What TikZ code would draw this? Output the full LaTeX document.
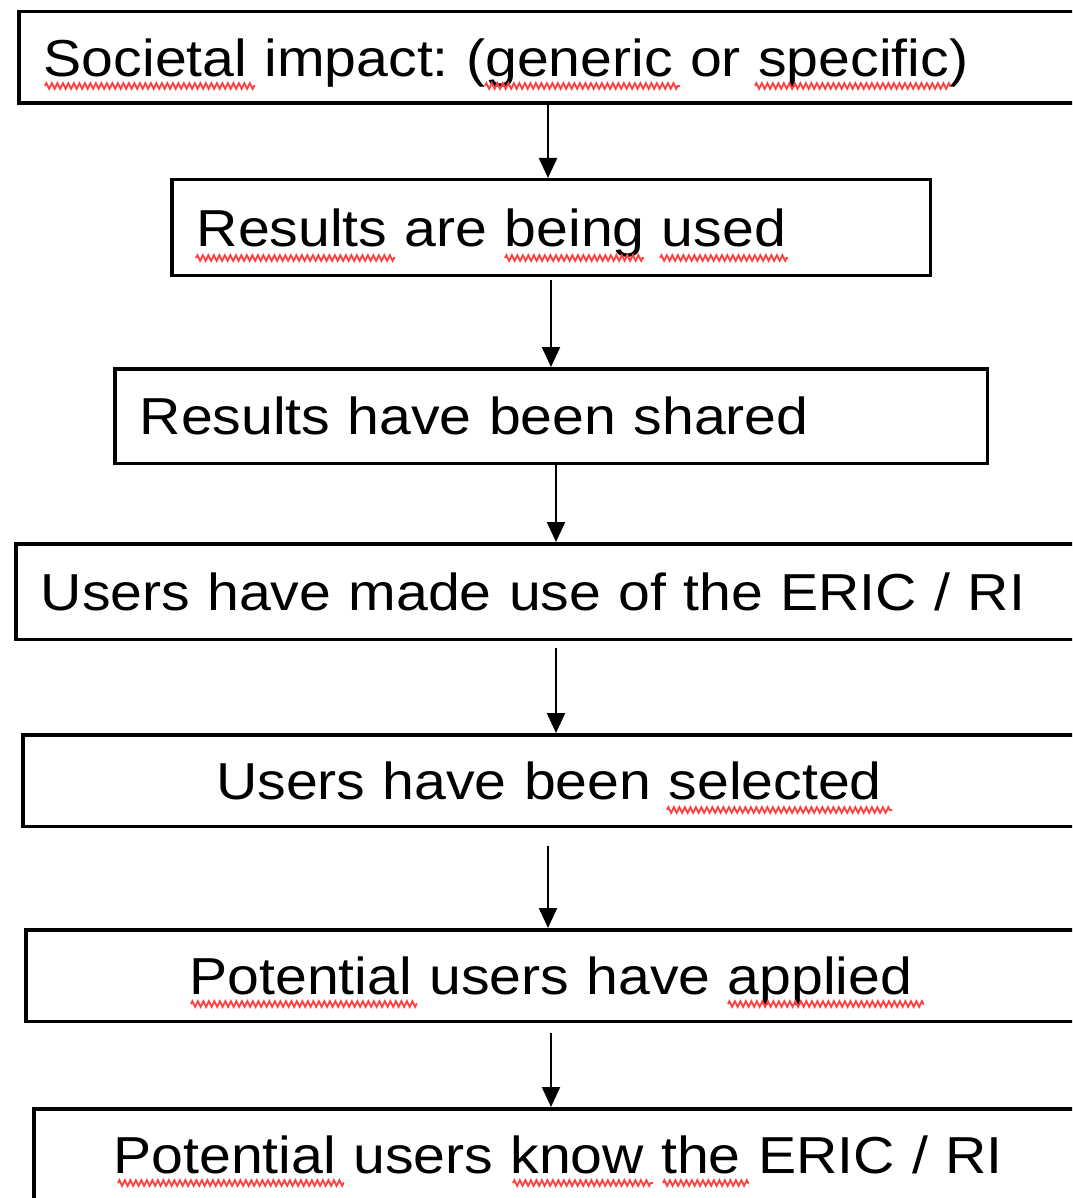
\documentclass[tikz,border=0pt]{standalone}
\usepackage{fontspec}
\setmainfont{Liberation Sans}[FakeStretch=1.1]
\usetikzlibrary{arrows.meta,decorations.pathmorphing}
\frenchspacing
\begin{document}
\begin{tikzpicture}[x=1pt,y=-1pt,
  box/.style={draw, line width=3.5pt, inner xsep=25pt, inner ysep=0pt, anchor=north west,
    font=\fontsize{52}{60}\selectfont, text height=37.2pt, text depth=0pt},
  arr/.style={line width=2.2pt, -{Triangle[width=18pt,length=20pt]}},
  spell/.style={draw=red!75, line width=1.8pt, decorate,
    decoration={zigzag, amplitude=2.8pt, segment length=5.5pt}}]
\useasboundingbox (0,0) rectangle (1072,1198);
\fill[white] (0,0) rectangle (1072,1198);
\clip (0,0) rectangle (1072,1198);

\node[box, text width=1014.5pt, minimum height=91.5pt, align=left] (b1) at (17,10) {Societal impact: (generic or specific)};
\node[box, text width=708.5pt, minimum height=95.5pt, align=left] (b2) at (170,178) {Results are being used};
\node[box, text width=822.5pt, minimum height=94.5pt, align=left] (b3) at (113,367) {Results have been shared};
\node[box, text width=1017.5pt, minimum height=95.5pt, align=left] (b4) at (14,542) {Users have made use of the ERIC / RI};
\node[box, text width=1002.5pt, minimum height=91.5pt, align=center] (b5) at (21,733) {Users have been selected};
\node[box, text width=1000.5pt, minimum height=91.5pt, align=center] (b6) at (24,928) {Potential users have applied};
\node[box, text width=998.5pt, minimum height=91.5pt, align=center] (b7) at (32,1107) {Potential users know the ERIC / RI};

\coordinate (x1) at (548,0);
\coordinate (x2) at (551,0);
\coordinate (x3) at (556,0);
\coordinate (x4) at (556,0);
\coordinate (x5) at (548,0);
\coordinate (x6) at (551,0);

\draw[arr] (b1.south -| x1) -- (b2.north -| x1);
\draw[arr] ([yshift=-3pt]b2.south -| x2) -- (b3.north -| x2);
\draw[arr] (b3.south -| x3) -- (b4.north -| x3);
\draw[arr] ([yshift=-7pt]b4.south -| x4) -- (b5.north -| x4);
\draw[arr] ([yshift=-18pt]b5.south -| x5) -- (b6.north -| x5);
\draw[arr] ([yshift=-10pt]b6.south -| x6) -- (b7.north -| x6);

% spell-check underlines
\draw[spell] (45,86) -- (255,86);
\draw[spell] (485,86) -- (680,86);
\draw[spell] (755,86) -- (951,86);
\draw[spell] (196,258) -- (395,258);
\draw[spell] (505,258) -- (644,258);
\draw[spell] (660,258) -- (788,258);
\draw[spell] (667,810) -- (892,810);
\draw[spell] (191,1004) -- (417,1004);
\draw[spell] (728,1004) -- (924,1004);
\draw[spell] (118,1183) -- (344,1183);
\draw[spell] (513,1183) -- (653,1183);
\draw[spell] (663,1183) -- (749,1183);
\end{tikzpicture}
\end{document}
